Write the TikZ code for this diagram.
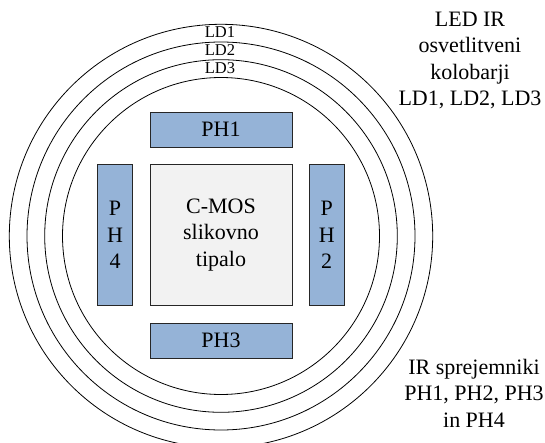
\documentclass[tikz,border=0pt]{standalone}
\usepackage{fontspec}
\setmainfont{Liberation Serif}
\usetikzlibrary{positioning}
\definecolor{senzor}{HTML}{95B3D7}
\definecolor{tipalo}{HTML}{F2F2F2}

\begin{document}
\begin{tikzpicture}[x=1pt, y=-1pt,
    kolobar/.style={line width=0.8pt},
    okvir/.style={draw=black!85, line width=1pt, inner sep=0pt, align=center,
        font=\fontsize{22}{26.5}\selectfont},
    sprejemnik/.style={okvir, fill=senzor},
    besedilo/.style={inner sep=0pt, align=center, font=\fontsize{22}{26.5}\selectfont},
    oznaka/.style={inner sep=0pt, anchor=base, font=\fontsize{16.5}{19}\selectfont}]
    \useasboundingbox (0,0) rectangle (545,443);

    % Kolobarji LED
    \coordinate (sredina) at (221,236);
    \foreach \r in {158.5,176.3,194,211.7}
        \draw[kolobar] (sredina) circle[radius=\r pt];
    \node[oznaka] (ld1) at (220,37.7) {LD1};
    \node[oznaka] (ld2) at (220,55.5) {LD2};
    \node[oznaka] (ld3) at (220,73.3) {LD3};

    % Tipalo in sprejemniki
    \node[okvir, fill=tipalo, minimum width=142pt, minimum height=140pt] (cmos) at (221,235) {C-MOS\\slikovno\\tipalo};
    \node[sprejemnik, minimum width=142pt, minimum height=35pt] (ph1) at (221,129.7) {PH1};
    \node[sprejemnik, minimum width=35pt, minimum height=140pt] (ph2) at (326.7,235) {P\\H\\2};
    \node[sprejemnik, minimum width=142pt, minimum height=35pt] (ph3) at (221,340.5) {PH3};
    \node[sprejemnik, minimum width=35pt, minimum height=140pt] (ph4) at (115,235) {P\\H\\4};

    % Opisi
    \node[besedilo] (opisled) at (470,60.4) {LED IR\\osvetlitveni\\kolobarji\\LD1, LD2, LD3};
    \node[besedilo] (opisph) at (474,393) {IR sprejemniki\\PH1, PH2, PH3\\in PH4};
\end{tikzpicture}
\end{document}
